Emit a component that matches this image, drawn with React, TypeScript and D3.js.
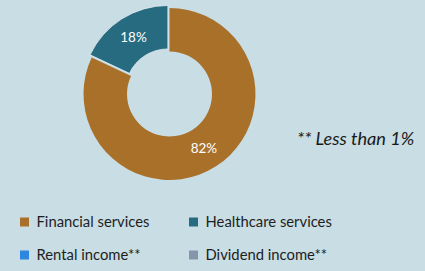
import React from 'react';
import * as d3 from 'd3';

const categories = ['Financial services', 'Healthcare services', 'Rental income**', 'Dividend income**'];
const values = [82, 18, 0, 0];
const colors = ['#a9702a', '#266b80', '#2e86de', '#8595aa'];
const footnote = '** Less than 1%';

const width = 425;
const height = 271;

const App = () => {
  const cx = 169.5;
  const cy = 94;
  const outer = 86;
  const inner = 42.5;

  const pie = d3.pie<number>().sort(null).value(d => d);
  const arcs = pie(values);
  const arc = d3.arc<d3.PieArcDatum<number>>().innerRadius(inner).outerRadius(outer);

  return (
    <div style={{ position: 'absolute', left: 0, top: 0 }}>
      <svg width={width} height={height} style={{ display: 'block', background: '#c8dde4' }}>
        <g transform={`translate(${cx},${cy})`}>
          {arcs.map((a, i) => {
            if (a.value === 0) return null;
            // pull out the smaller slice a little
            const mid = (a.startAngle + a.endAngle) / 2;
            const off = i === 1 ? 3 : 0;
            const dx = Math.sin(mid) * off;
            const dy = -Math.cos(mid) * off;
            const [lx, ly] = arc.centroid(a);
            return (
              <g key={i}>
                <path d={arc(a) || ''} transform={`translate(${dx},${dy})`} fill={colors[i]}
                  stroke="#e6eef1" strokeWidth={i === 1 ? 0.8 : 0} />
                <text x={lx + dx} y={ly + dy} dy="0.35em" textAnchor="middle" fill="#ffffff"
                  fontFamily="Lato" fontSize={13.5}>{a.value}%</text>
              </g>
            );
          })}
        </g>
        <text x={297} y={145} fontFamily="Lato" fontStyle="italic" fontSize={18.2} fill="#1a1a1a">{footnote}</text>
        {categories.map((c, i) => {
          const col = i % 2;
          const row = Math.floor(i / 2);
          const x = col === 0 ? 20 : 189;
          const y = 222 + row * 33;
          return (
            <g key={c}>
              <rect x={x} y={y - 4.5} width={9} height={9} fill={colors[i]} />
              <text x={x + 16.5} y={y} dy="0.35em" fontFamily="Lato" fontSize={14.8} fill="#1e1e1e">{c}</text>
            </g>
          );
        })}
      </svg>
    </div>
  );
};

export default App;
